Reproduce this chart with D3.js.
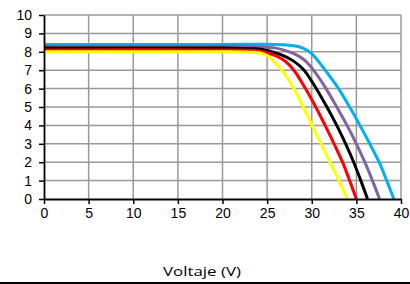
<!DOCTYPE html>
<html>
<head>
<meta charset="utf-8">
<script src="https://cdn.jsdelivr.net/npm/d3@7"></script>
<style>
  body { margin: 0; background: #fff; }
  svg { display: block; }
</style>
</head>
<body>
<div id="chart"></div>
<script>
// Tick values
const xTicks = [0, 5, 10, 15, 20, 25, 30, 35, 40];
const yTicks = [0, 1, 2, 3, 4, 5, 6, 7, 8, 9, 10];
const xLabel = "Voltaje (V)";

// I-V curves, [voltage, current]
const yellowCurve = [[0, 8.0], [20, 8.0], [23, 7.98], [24.2, 7.94], [25, 7.8], [25.7, 7.5], [26.65, 7.0], [28, 6.0], [29.05, 5.0], [30.05, 4.0], [31.05, 3.0], [32.05, 2.0], [33.05, 1.0], [34, 0]];
const redCurve = [[0, 8.1], [20, 8.1], [23, 8.08], [24, 8.04], [25, 7.95], [26, 7.78], [27, 7.5], [28, 7.0], [29.3, 6.0], [30.45, 5.0], [31.5, 4.0], [32.5, 3.0], [33.45, 2.0], [34.25, 1.0], [35, 0]];
const blackCurve = [[0, 8.2], [20, 8.2], [24, 8.15], [25, 8.07], [26, 7.93], [27, 7.75], [28, 7.48], [29, 7.08], [30, 6.4], [31.7, 5.0], [32.8, 4.0], [33.8, 3.0], [34.7, 2.0], [35.5, 1.0], [36.25, 0]];
const purpleCurve = [[0, 8.3], [20, 8.3], [24, 8.28], [26, 8.2], [27, 8.08], [28, 7.9], [29, 7.62], [29.6, 7.35], [30.2, 7.0], [31.6, 6.0], [32.8, 5.0], [33.95, 4.0], [35.0, 3.0], [35.95, 2.0], [36.8, 1.0], [37.6, 0]];
const blueCurve = [[0, 8.4], [20, 8.4], [26, 8.4], [28, 8.33], [29, 8.2], [30, 7.9], [31.5, 7.0], [33.0, 6.0], [34.25, 5.0], [35.4, 4.0], [36.5, 3.0], [37.55, 2.0], [38.4, 1.0], [39.2, 0]];

const series = [
  {name: "blue", color: "#00b0f0", values: blueCurve},
  {name: "purple", color: "#8064a2", values: purpleCurve},
  {name: "black", color: "#000000", values: blackCurve},
  {name: "red", color: "#ff0000", values: redCurve},
  {name: "yellow", color: "#ffff00", values: yellowCurve}
];

const W = 410, H = 284;
const margin = {top: 15, right: 9, bottom: 85, left: 44};
const width = W - margin.left - margin.right,
      height = H - margin.top - margin.bottom;

const svg = d3.select("#chart")
  .append("svg")
  .attr("width", W)
  .attr("height", H);

const g = svg.append("g")
  .attr("transform", `translate(${margin.left},${margin.top})`);

const x = d3.scaleLinear().domain([0, 40]).range([0, width]);
const y = d3.scaleLinear().domain([0, 10]).range([height, 0]);

// Grid
g.append("g")
  .selectAll("line")
  .data(xTicks.slice(1))
  .enter().append("line")
  .attr("x1", d => x(d)).attr("x2", d => x(d))
  .attr("y1", 0).attr("y2", height)
  .attr("stroke", "#999").attr("stroke-width", 1.5);

g.append("g")
  .selectAll("line")
  .data(yTicks.slice(1))
  .enter().append("line")
  .attr("x1", 0).attr("x2", width)
  .attr("y1", d => y(d)).attr("y2", d => y(d))
  .attr("stroke", "#999").attr("stroke-width", 1.5);

// Curves
const line = d3.line()
  .x(d => x(d[0]))
  .y(d => y(d[1]))
  .curve(d3.curveCatmullRom.alpha(0.5));

g.selectAll(".curve")
  .data(series)
  .enter().append("path")
  .attr("class", "curve")
  .attr("d", d => line(d.values))
  .attr("fill", "none")
  .attr("stroke", d => d.color)
  .attr("stroke-width", 3)
  .attr("stroke-linejoin", "round");

// Axes
const xAxis = g.append("g")
  .attr("transform", `translate(0,${height})`)
  .call(d3.axisBottom(x).tickValues(xTicks).tickSize(5).tickSizeOuter(0).tickPadding(4));

const yAxis = g.append("g")
  .call(d3.axisLeft(y).tickValues(yTicks).tickSize(5).tickSizeOuter(0).tickPadding(7));

[xAxis, yAxis].forEach(a => {
  a.select(".domain").attr("stroke", "#000").attr("stroke-width", 1.8);
  a.selectAll(".tick line").attr("stroke", "#000").attr("stroke-width", 1.5);
  a.selectAll("text")
    .attr("fill", "#000")
    .style("font-family", "'Liberation Sans', Arial, sans-serif")
    .style("font-size", "14px");
});

// Axis title
svg.append("text")
  .attr("x", 163)
  .attr("y", 276)
  .attr("textLength", 78)
  .attr("lengthAdjust", "spacingAndGlyphs")
  .style("font-family", "'Open Sans', sans-serif")
  .style("font-size", "13px")
  .text(xLabel);

// Bottom rule
svg.append("rect")
  .attr("x", 0).attr("y", 282)
  .attr("width", W).attr("height", 2)
  .attr("fill", "#000");
</script>
</body>
</html>
